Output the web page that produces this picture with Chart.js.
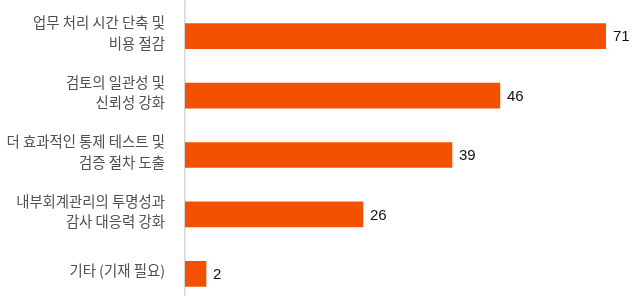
<!DOCTYPE html>
<html>
<head>
<meta charset="utf-8">
<script src="https://cdn.jsdelivr.net/npm/chart.js@4"></script>
<style>
html,body{margin:0;padding:0;background:#fff;overflow:hidden;}
canvas{display:block;}
</style>
</head>
<body>
<canvas id="c" width="641" height="306"></canvas>
<script>
const categories = [
  ["업무 처리 시간 단축 및", "비용 절감"],
  ["검토의 일관성 및", "신뢰성 강화"],
  ["더 효과적인 통제 테스트 및", "검증 절차 도출"],
  ["내부회계관리의 투명성과", "감사 대응력 강화"],
  ["기타 (기재 필요)"]
];
const values = [71, 46, 39, 26, 2];

const valueLabels = {
  id: 'valueLabels',
  afterDatasetsDraw(chart) {
    const ctx = chart.ctx;
    const meta = chart.getDatasetMeta(0);
    ctx.save();
    ctx.font = '15px "Liberation Sans", Arial, sans-serif';
    ctx.fillStyle = '#111';
    ctx.textAlign = 'left';
    ctx.textBaseline = 'middle';
    meta.data.forEach((bar, i) => {
      const x = Math.min(bar.x, chart.chartArea.right) + 7;
      ctx.fillText(String(values[i]), x, bar.y + 1);
    });
    // extend the category axis line to the top edge
    const ca = chart.chartArea;
    ctx.strokeStyle = '#d6d6d6';
    ctx.lineWidth = 1.5;
    ctx.beginPath();
    ctx.moveTo(ca.left, 0);
    ctx.lineTo(ca.left, ca.top);
    ctx.stroke();
    ctx.restore();
  }
};

new Chart(document.getElementById('c'), {
  type: 'bar',
  data: {
    labels: categories,
    datasets: [{
      data: values,
      backgroundColor: '#F35000',
      borderWidth: 0,
      barThickness: 25,
      minBarLength: 21
    }]
  },
  options: {
    indexAxis: 'y',
    responsive: false,
    animation: false,
    layout: { padding: { left: 0, right: 35, top: 6.5, bottom: 2.5 } },
    plugins: { legend: { display: false }, tooltip: { enabled: false } },
    scales: {
      x: { display: false, min: 0, max: 61.5 },
      y: {
        afterFit(scale) {
          scale.width = 185;
          scale.paddingTop = 0;
          scale.paddingBottom = 0;
        },
        grid: { display: false, drawTicks: false },
        border: { display: true, color: '#d6d6d6', width: 1.5 },
        ticks: {
          padding: 20,
          labelOffset: -3,
          color: '#505050',
          font: { family: '"Noto Sans CJK KR", sans-serif', size: 14.4, lineHeight: 1.42 }
        }
      }
    }
  },
  plugins: [valueLabels]
});
</script>
</body>
</html>
